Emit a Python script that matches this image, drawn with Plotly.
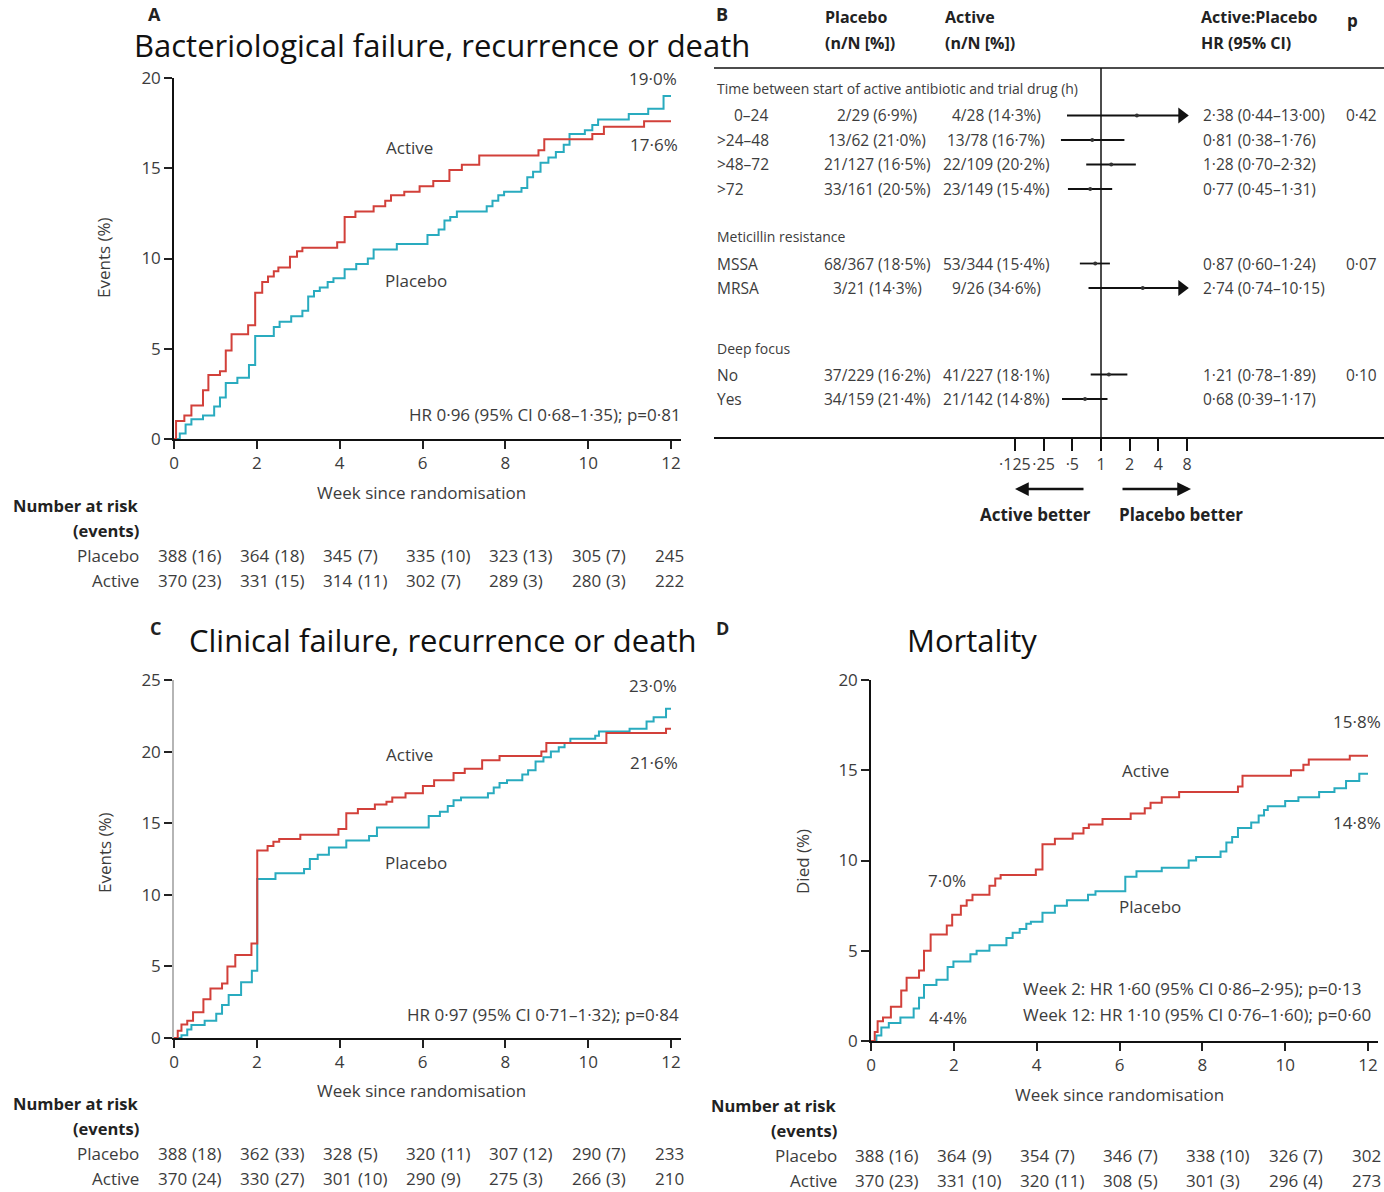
import plotly.graph_objects as go

W, H = 1384, 1192
RED = "#d2403a"
TEAL = "#29abbf"
INK = "#3c3c3c"
SANS = "Open Sans, Noto Sans, DejaVu Sans, sans-serif"
TITLE_FONT = "Open Sans, Lato, sans-serif"

# ---------------- Kaplan-Meier data (cumulative events, %) ----------------
# A: bacteriological failure, recurrence or death
a_placebo_t = [0, 0.14, 0.28, 0.42, 0.70, 0.97, 1.11, 1.25, 1.53, 1.81, 1.96, 2.41, 2.55, 2.83, 3.10,
               3.24, 3.38, 3.52, 3.71, 3.85, 4.12, 4.40, 4.68, 4.82, 5.38, 6.12, 6.39, 6.53, 6.67, 6.83,
               7.55, 7.69, 7.83, 7.97, 8.39, 8.53, 8.67, 8.85, 9.04, 9.22, 9.41, 9.55, 9.92, 10.10,
               10.24, 10.98, 11.45, 11.82, 12.0]
a_placebo_v = [0, 0.3, 0.8, 1.1, 1.3, 1.8, 2.3, 3.1, 3.4, 4.1, 5.7, 6.2, 6.5, 6.8, 7.1,
               7.9, 8.2, 8.4, 8.7, 8.9, 9.4, 9.7, 10.0, 10.5, 10.8, 11.3, 11.6, 12.1, 12.3, 12.6,
               12.9, 13.2, 13.5, 13.7, 13.9, 14.5, 14.8, 15.3, 15.6, 15.9, 16.3, 16.9, 17.1, 17.4,
               17.7, 18.0, 18.3, 19.0, 19.0]
a_active_t = [0, 0.05, 0.25, 0.42, 0.70, 0.83, 1.11, 1.25, 1.39, 1.79, 1.96, 2.13, 2.27, 2.41, 2.52,
              2.80, 2.97, 3.10, 3.94, 4.12, 4.38, 4.82, 5.10, 5.24, 5.56, 5.93, 6.26, 6.65, 6.95, 7.37,
              8.80, 8.94, 10.10, 10.38, 11.35, 12.0]
a_active_v = [0, 1.0, 1.3, 1.85, 2.7, 3.55, 3.75, 4.9, 5.8, 6.3, 8.1, 8.7, 9.0, 9.3, 9.5,
              10.1, 10.4, 10.6, 10.9, 12.3, 12.6, 12.9, 13.2, 13.5, 13.7, 14.0, 14.3, 14.9, 15.2, 15.7,
              16.0, 16.6, 16.9, 17.3, 17.6, 17.6]

# C: clinical failure, recurrence or death
c_placebo_t = [0, 0.18, 0.32, 0.42, 0.74, 1.02, 1.16, 1.32, 1.62, 1.88, 2.01, 2.45, 3.14, 3.28, 3.47,
               3.74, 4.16, 4.71, 4.90, 6.15, 6.42, 6.61, 6.75, 6.93, 7.58, 7.72, 7.86, 8.04, 8.41,
               8.55, 8.73, 8.92, 9.10, 9.29, 9.43, 9.57, 10.17, 10.26, 11.0, 11.41, 11.58, 11.88, 12.0]
c_placebo_v = [0, 0.2, 0.6, 0.9, 1.2, 1.7, 2.3, 3.0, 3.9, 4.7, 11.1, 11.5, 11.8, 12.5, 12.8,
               13.3, 13.8, 14.1, 14.7, 15.5, 15.8, 16.2, 16.6, 16.8, 17.1, 17.5, 17.8, 18.0, 18.4,
               18.7, 19.3, 19.6, 20.0, 20.3, 20.6, 20.9, 21.1, 21.4, 21.6, 22.1, 22.4, 23.0, 23.0]
c_active_t = [0, 0.09, 0.18, 0.32, 0.46, 0.71, 0.88, 1.16, 1.29, 1.48, 1.87, 2.01, 2.26, 2.40, 2.54,
              3.05, 3.97, 4.16, 4.44, 4.85, 5.13, 5.27, 5.59, 6.01, 6.28, 6.75, 7.02, 7.44, 7.86,
              8.87, 8.99, 10.44, 11.88, 12.0]
c_active_v = [0, 0.5, 0.95, 1.2, 1.8, 2.7, 3.45, 3.8, 5.0, 5.8, 6.6, 13.1, 13.4, 13.7, 13.9,
              14.2, 14.6, 15.7, 16.0, 16.3, 16.5, 16.8, 17.1, 17.6, 18.0, 18.5, 18.8, 19.4, 19.7,
              20.0, 20.6, 21.3, 21.6, 21.6]

# D: mortality
d_placebo_t = [0, 0.13, 0.25, 0.43, 0.71, 1.03, 1.16, 1.28, 1.58, 1.85, 1.99, 2.40, 2.55, 2.86, 3.27,
               3.42, 3.59, 3.75, 3.86, 4.14, 4.44, 4.73, 5.24, 5.42, 6.14, 6.41, 7.02, 7.67, 7.85,
               8.44, 8.58, 8.72, 8.86, 9.18, 9.36, 9.49, 9.58, 10.0, 10.32, 10.82, 11.19, 11.47,
               11.79, 12.0]
d_placebo_v = [0, 0.3, 0.75, 1.0, 1.3, 1.8, 2.4, 3.1, 3.4, 4.1, 4.4, 4.8, 5.0, 5.3, 5.7,
               6.0, 6.2, 6.5, 6.6, 7.1, 7.5, 7.8, 8.1, 8.3, 9.1, 9.4, 9.6, 10.0, 10.2,
               10.5, 11.0, 11.3, 11.8, 12.1, 12.5, 12.8, 13.0, 13.3, 13.5, 13.8, 14.0, 14.4,
               14.8, 14.8]
d_active_t = [0, 0.09, 0.16, 0.29, 0.48, 0.73, 0.86, 1.16, 1.28, 1.44, 1.83, 1.96, 2.17, 2.31, 2.45,
              2.86, 3.00, 3.13, 3.98, 4.14, 4.44, 4.87, 5.13, 5.26, 5.59, 6.27, 6.61, 6.75, 7.02,
              7.44, 8.86, 8.97, 10.14, 10.44, 10.57, 11.56, 12.0]
d_active_v = [0, 0.5, 1.1, 1.3, 1.9, 2.8, 3.5, 3.9, 5.0, 5.9, 6.4, 7.0, 7.5, 7.8, 8.1,
              8.6, 9.0, 9.2, 9.5, 10.9, 11.2, 11.5, 11.8, 12.0, 12.3, 12.6, 12.9, 13.2, 13.5,
              13.8, 14.1, 14.7, 15.0, 15.3, 15.6, 15.8, 15.8]

# ---------------- Number at risk (events) ----------------
risk_weeks = [0, 2, 4, 6, 8, 10, 12]
a_risk_placebo = [388, 364, 345, 335, 323, 305, 245]
a_events_placebo = [16, 18, 7, 10, 13, 7]
a_risk_active = [370, 331, 314, 302, 289, 280, 222]
a_events_active = [23, 15, 11, 7, 3, 3]
c_risk_placebo = [388, 362, 328, 320, 307, 290, 233]
c_events_placebo = [18, 33, 5, 11, 12, 7]
c_risk_active = [370, 330, 301, 290, 275, 266, 210]
c_events_active = [24, 27, 10, 9, 3, 3]
d_risk_placebo = [388, 364, 354, 346, 338, 326, 302]
d_events_placebo = [16, 9, 7, 7, 10, 7]
d_risk_active = [370, 331, 320, 308, 301, 296, 273]
d_events_active = [23, 10, 11, 5, 3, 4]

# ---------------- Subgroup (forest) data ----------------
subgroup_titles = ["Time between start of active antibiotic and trial drug (h)",
                   "Meticillin resistance", "Deep focus"]
subgroup_rows = [["0–24", ">24–48", ">48–72", ">72"], ["MSSA", "MRSA"], ["No", "Yes"]]
placebo_events = [2, 13, 21, 33, 68, 3, 37, 34]
placebo_totals = [29, 62, 127, 161, 367, 21, 229, 159]
active_events = [4, 13, 22, 23, 53, 9, 41, 21]
active_totals = [28, 78, 109, 149, 344, 26, 227, 142]
hr = [2.38, 0.81, 1.28, 0.77, 0.87, 2.74, 1.21, 0.68]
hr_low = [0.44, 0.38, 0.70, 0.45, 0.60, 0.74, 0.78, 0.39]
hr_high = [13.00, 1.76, 2.32, 1.31, 1.24, 10.15, 1.89, 1.17]
p_interaction = [0.42, 0.07, 0.10]
forest_ticks = [0.125, 0.25, 0.5, 1, 2, 4, 8]
forest_ticktext = ["·125", "·25", "·5", "1", "2", "4", "8"]


def px(x):
    return x / W


def py(y):
    return 1 - y / H


def lf(v, d=1):
    """Lancet-style decimal point."""
    return f"{v:.{d}f}".replace(".", "·")


fig = go.Figure()


def txt(x, y, s, size=17, color=INK, xanchor="center", family=SANS, angle=0, bold=False,
        xref="paper", yref="paper", xshift=0):
    fig.add_annotation(
        x=x, y=y, xref=xref, yref=yref, text=f"<b>{s}</b>" if bold else s, showarrow=False,
        xanchor=xanchor, yanchor="middle", textangle=angle, xshift=xshift, borderpad=0,
        font=dict(size=size, color=color, family=family))


def km_line(t, v, color, xa, ya):
    fig.add_trace(go.Scatter(x=t, y=v, mode="lines", xaxis=xa, yaxis=ya, showlegend=False,
                             hoverinfo="skip", line=dict(color=color, width=2, shape="hv")))


def km_xaxis(x0, x12, xend):
    return dict(domain=[px(x0), px(xend)], range=[0, 12 * (xend - x0) / (x12 - x0)],
                tickvals=[0, 2, 4, 6, 8, 10, 12], ticks="outside", ticklen=8, tickwidth=1.5,
                tickcolor="#222", showline=True, linecolor="#111", linewidth=1.5, tickangle=0,
                showgrid=False, zeroline=False, tickfont=dict(family=SANS, size=17, color=INK))


def km_yaxis(y0, ytop, ymax, linecolor="#111"):
    return dict(domain=[py(y0), py(ytop)], range=[0, ymax], tickvals=list(range(0, ymax + 1, 5)),
                ticks="outside", ticklen=8, tickwidth=1.5, tickcolor="#222", showline=True,
                linecolor=linecolor, linewidth=1.5, showgrid=False, zeroline=False,
                tickfont=dict(family=SANS, size=17, color=INK))


def value_at(t, v, week):
    out = v[0]
    for ti, vi in zip(t, v):
        if ti <= week:
            out = vi
    return out


def risk_table(xa, label_right, head_y, rp, ep, ra, ea):
    txt(px(label_right), py(head_y), "Number at risk", size=16.5, xanchor="right", bold=True, color="#222")
    txt(px(label_right), py(head_y + 25), "(events)", size=16.5, xanchor="right", bold=True, color="#222")
    for k, (name, n, e) in enumerate([("Placebo", rp, ep), ("Active", ra, ea)]):
        yy = py(head_y + 50 + 25 * k)
        txt(px(label_right), yy, name, size=17, xanchor="right")
        for w, val in zip(risk_weeks, n):
            txt(w, yy, str(val), size=17, xref=xa, xshift=-2)
        for w, val in zip(risk_weeks[:-1], e):
            txt(w, yy, f"({val})", size=17, xref=xa, xanchor="left", xshift=17)


# ---------------- Panel A ----------------
km_line(a_placebo_t, a_placebo_v, TEAL, "x", "y")
km_line(a_active_t, a_active_v, RED, "x", "y")
txt(px(154), py(13.5), "A", size=18, bold=True, color="#222")
txt(px(442), py(45.5), "Bacteriological failure, recurrence or death", size=31, family=TITLE_FONT, color="#111")
txt(px(104), py(258), "Events (%)", angle=-90)
txt(px(410), py(148), "Active")
txt(px(416), py(280), "Placebo")
txt(px(653), py(78.5), lf(a_placebo_v[-1]) + "%")
txt(px(654), py(145), lf(a_active_v[-1]) + "%")
txt(px(682), py(414), "HR 0·96 (95% CI 0·68–1·35); p=0·81", xanchor="right")
txt(px(421), py(492), "Week since randomisation")
risk_table("x", 140, 505, a_risk_placebo, a_events_placebo, a_risk_active, a_events_active)

# ---------------- Panel C ----------------
km_line(c_placebo_t, c_placebo_v, TEAL, "x2", "y2")
km_line(c_active_t, c_active_v, RED, "x2", "y2")
txt(px(155), py(628), "C", size=18, bold=True, color="#222")
txt(px(442), py(640), "Clinical failure, recurrence or death", size=31, family=TITLE_FONT, color="#111")
txt(px(104), py(853), "Events (%)", angle=-90)
txt(px(410), py(754), "Active")
txt(px(416), py(862), "Placebo")
txt(px(653), py(685), lf(c_placebo_v[-1]) + "%")
txt(px(654), py(762), lf(c_active_v[-1]) + "%")
txt(px(680), py(1014), "HR 0·97 (95% CI 0·71–1·32); p=0·84", xanchor="right")
txt(px(421), py(1090), "Week since randomisation")
risk_table("x2", 140, 1103, c_risk_placebo, c_events_placebo, c_risk_active, c_events_active)

# ---------------- Panel D ----------------
km_line(d_placebo_t, d_placebo_v, TEAL, "x3", "y3")
km_line(d_active_t, d_active_v, RED, "x3", "y3")
txt(px(722), py(628), "D", size=18, bold=True, color="#222")
txt(px(972), py(640), "Mortality", size=31, family=TITLE_FONT, color="#111")
txt(px(802), py(862), "Died (%)", angle=-90)
txt(px(1145), py(770), "Active")
txt(px(1150), py(906), "Placebo")
txt(px(1357), py(721), lf(d_active_v[-1]) + "%")
txt(px(1357), py(822), lf(d_placebo_v[-1]) + "%")
txt(px(947), py(881), lf(value_at(d_active_t, d_active_v, 2)) + "%")
txt(px(948), py(1017), lf(value_at(d_placebo_t, d_placebo_v, 2)) + "%")
txt(px(1022), py(988), "Week 2: HR 1·60 (95% CI 0·86–2·95); p=0·13", xanchor="left")
txt(px(1022), py(1014), "Week 12: HR 1·10 (95% CI 0·76–1·60); p=0·60", xanchor="left")
txt(px(1119), py(1094), "Week since randomisation")
risk_table("x3", 838, 1105, d_risk_placebo, d_events_placebo, d_risk_active, d_events_active)

# ---------------- Panel B: subgroup forest plot ----------------
FX0, FX1, F_ONE, F_DOUBLE = 714, 1384, 1101, 28.7
per_decade = F_DOUBLE / 0.30103
forest_range = [(FX0 - F_ONE) / per_decade, (FX1 - F_ONE) / per_decade]
F_TOP, F_BOTTOM = 68, 437

txt(px(722), py(13.5), "B", size=18, bold=True, color="#222")
for xh, l1, l2 in [(824, "Placebo", "(n/N [%])"), (944, "Active", "(n/N [%])"),
                   (1200, "Active:Placebo", "HR (95% CI)")]:
    txt(px(xh), py(17), l1, size=16, xanchor="left", bold=True, color="#222")
    txt(px(xh), py(43), l2, size=16, xanchor="left", bold=True, color="#222")
txt(px(1346), py(20), "p", xanchor="left", bold=True, color="#222")

fig.add_shape(type="line", xref="paper", yref="paper", x0=px(FX0), x1=px(FX1), y0=py(F_TOP), y1=py(F_TOP),
              line=dict(color="#111", width=1.5))
fig.add_trace(go.Scatter(x=[1, 1], y=[F_TOP, F_BOTTOM], mode="lines", xaxis="x4", yaxis="y4",
                         line=dict(color="#111", width=1.5), showlegend=False, hoverinfo="skip"))

# row positions (in the forest y-axis units)
row_y, head_y = [], []
y_cursor = 89
group_gaps = [0, 48, 60]
for g, rows in enumerate(subgroup_rows):
    y_cursor += group_gaps[g]
    head_y.append(y_cursor)
    y_cursor += 26.5
    for r in range(len(rows)):
        row_y.append(y_cursor)
        if r < len(rows) - 1:
            y_cursor += 24.5

FS = 15.5
i = 0
for g, rows in enumerate(subgroup_rows):
    txt(px(716), head_y[g], subgroup_titles[g], size=14, xanchor="left", yref="y4")
    for r, label in enumerate(rows):
        yy = row_y[i]
        indent = 17 if label[0].isdigit() else 0
        txt(px(716), yy, label, size=FS, xanchor="left", yref="y4", xshift=indent)
        txt(px(877), yy, f"{placebo_events[i]}/{placebo_totals[i]} ({lf(100 * placebo_events[i] / placebo_totals[i])}%)",
            size=FS, yref="y4")
        txt(px(996), yy, f"{active_events[i]}/{active_totals[i]} ({lf(100 * active_events[i] / active_totals[i])}%)",
            size=FS, yref="y4")
        txt(px(1202), yy, f"{lf(hr[i], 2)} ({lf(hr_low[i], 2)}–{lf(hr_high[i], 2)})", size=FS,
            xanchor="left", yref="y4")
        if r == 0:
            txt(px(1345), yy, lf(p_interaction[g], 2), size=FS, xanchor="left", yref="y4")
        hi = min(hr_high[i], forest_ticks[-1])
        fig.add_trace(go.Scatter(x=[hr_low[i], hi], y=[yy, yy], mode="lines", xaxis="x4", yaxis="y4",
                                 line=dict(color="#111", width=1.8), showlegend=False, hoverinfo="skip"))
        fig.add_trace(go.Scatter(x=[hr[i]], y=[yy], mode="markers", xaxis="x4", yaxis="y4",
                                 marker=dict(color="#333", size=4), showlegend=False, hoverinfo="skip"))
        if hr_high[i] > forest_ticks[-1]:
            fig.add_trace(go.Scatter(x=[forest_ticks[-1] * 0.88], y=[yy], mode="markers", xaxis="x4", yaxis="y4",
                                     marker=dict(color="#111", size=14, symbol="triangle-right"),
                                     showlegend=False, hoverinfo="skip"))
        i += 1

# direction arrows
for tip, tail_dx in [(1015, 70), (1191, -70)]:
    fig.add_annotation(x=px(tip), y=py(489), xref="paper", yref="paper", text="", showarrow=True,
                       ax=tail_dx, ay=0, arrowhead=2, arrowsize=1.1, arrowwidth=2.5, arrowcolor="#111")
txt(px(1035), py(514), "Active better", bold=True, color="#222")
txt(px(1181), py(514), "Placebo better", bold=True, color="#222")

fig.update_layout(
    width=W, height=H, margin=dict(l=0, r=0, t=0, b=0, pad=0, autoexpand=False), autosize=False,
    paper_bgcolor="white", plot_bgcolor="white", showlegend=False,
    xaxis=dict(km_xaxis(174, 671, 681), anchor="y"),
    yaxis=dict(km_yaxis(439, 78, 20), anchor="x"),
    xaxis2=dict(km_xaxis(174, 671, 681), anchor="y2"),
    yaxis2=dict(km_yaxis(1038, 680, 25, linecolor="#b5b5b5"), anchor="x2"),
    xaxis3=dict(km_xaxis(871, 1368, 1378), anchor="y3"),
    yaxis3=dict(km_yaxis(1041, 680, 20), anchor="x3"),
    xaxis4=dict(type="log", domain=[px(FX0), px(FX1)], range=forest_range, anchor="y4",
                tickvals=forest_ticks, ticktext=forest_ticktext, ticks="outside", ticklen=12,
                tickwidth=1.5, tickcolor="#111", showline=True, linecolor="#111", linewidth=1.5,
                tickangle=0, showgrid=False, zeroline=False,
                tickfont=dict(family=SANS, size=16, color=INK)),
    yaxis4=dict(domain=[py(F_BOTTOM), py(F_TOP)], range=[F_BOTTOM, F_TOP], anchor="x4",
                visible=False, showgrid=False, zeroline=False),
)

fig.write_html("out.html")
